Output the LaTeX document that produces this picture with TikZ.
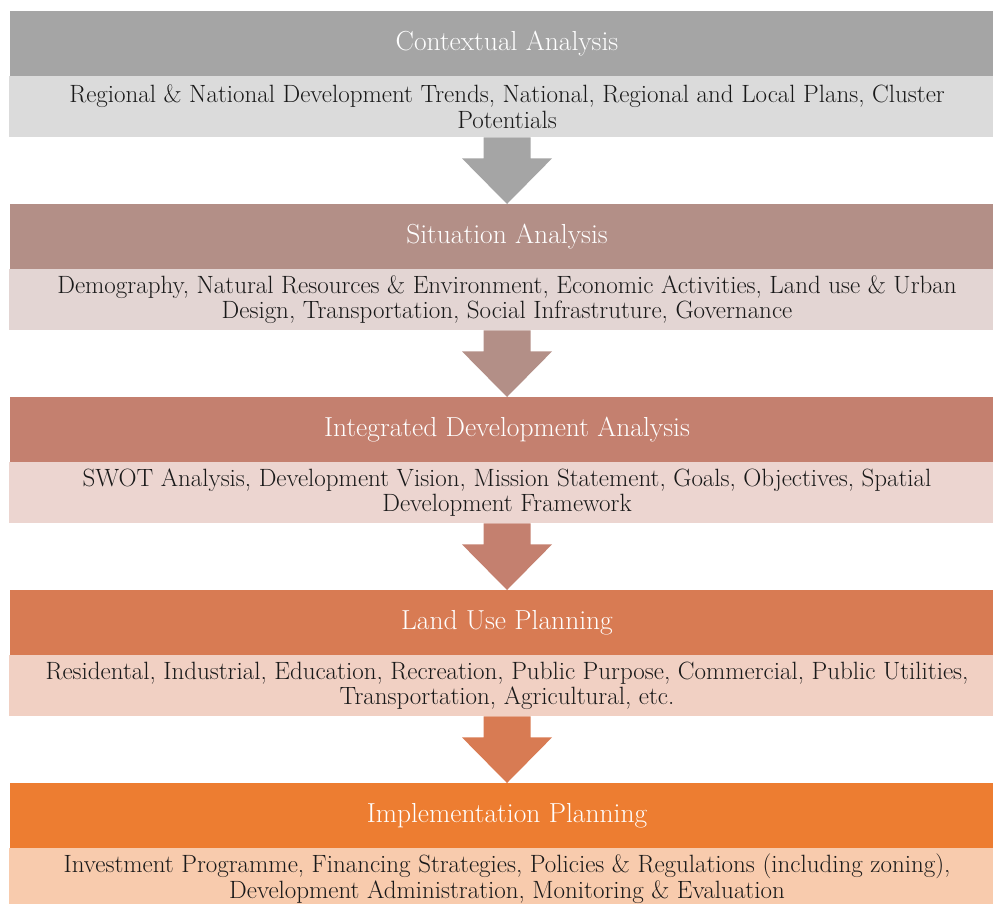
\documentclass[tikz,border=0pt]{standalone}
\usetikzlibrary{calc}
\definecolor{hdA}{HTML}{A5A5A5}\definecolor{bdA}{HTML}{DBDBDB}
\definecolor{hdB}{HTML}{B38F87}\definecolor{bdB}{HTML}{E3D5D3}
\definecolor{hdC}{HTML}{C4806F}\definecolor{bdC}{HTML}{ECD5D0}
\definecolor{hdD}{HTML}{D87B53}\definecolor{bdD}{HTML}{F1D0C3}
\definecolor{hdE}{HTML}{ED7D31}\definecolor{bdE}{HTML}{F8CBAD}
\tikzset{
  header/.style={rectangle, anchor=north, inner sep=0pt, minimum width=994pt,
    minimum height=65pt, text=white, font=\fontsize{27.5}{30}\selectfont},
  body/.style={rectangle, anchor=north, inner sep=0pt, minimum width=996pt,
    minimum height=61pt, text=black!90, align=center,
    font=\fontsize{25}{25.5}\selectfont},
}
% down arrow from the bottom of one block to the top of the next
\newcommand{\downarrowfill}[3]{%
  \fill[#3] ($(#1.south)+(-23.5,0)$) -- ($(#1.south)+(23.5,0)$)
    -- ($(#1.south)+(23.5,21)$) -- ($(#1.south)+(45,21)$)
    -- (#2.north) -- ($(#1.south)+(-45,21)$)
    -- ($(#1.south)+(-23.5,21)$) -- cycle;}
\begin{document}
\begin{tikzpicture}[x=1pt,y=-1pt]
\useasboundingbox (0,0) rectangle (993,903);
\clip (0,0) rectangle (993,903);

\node[header, fill=hdA] (h1) at (507,11) {Contextual Analysis};
\node[body, fill=bdA] (b1) at (507,76)
  {Regional \& National Development Trends, National, Regional and Local Plans, Cluster\\Potentials};

\node[header, fill=hdB] (h2) at (507,204) {Situation Analysis};
\node[body, fill=bdB] (b2) at (507,269)
  {Demography, Natural Resources \& Environment, Economic Activities, Land use \& Urban\\Design, Transportation, Social Infrastruture, Governance};

\node[header, fill=hdC] (h3) at (507,397) {Integrated Development Analysis};
\node[body, fill=bdC] (b3) at (507,462)
  {SWOT Analysis, Development Vision, Mission Statement, Goals, Objectives, Spatial\\Development Framework};

\node[header, fill=hdD] (h4) at (507,590) {Land Use Planning};
\node[body, fill=bdD] (b4) at (507,655)
  {Residental, Industrial, Education, Recreation, Public Purpose, Commercial, Public Utilities,\\Transportation, Agricultural, etc.};

\node[header, fill=hdE] (h5) at (507,783) {Implementation Planning};
\node[body, fill=bdE] (b5) at (507,848)
  {Investment Programme, Financing Strategies, Policies \& Regulations (including zoning),\\Development Administration, Monitoring \& Evaluation};

\downarrowfill{b1}{h2}{hdA}
\downarrowfill{b2}{h3}{hdB}
\downarrowfill{b3}{h4}{hdC}
\downarrowfill{b4}{h5}{hdD}
\end{tikzpicture}
\end{document}
